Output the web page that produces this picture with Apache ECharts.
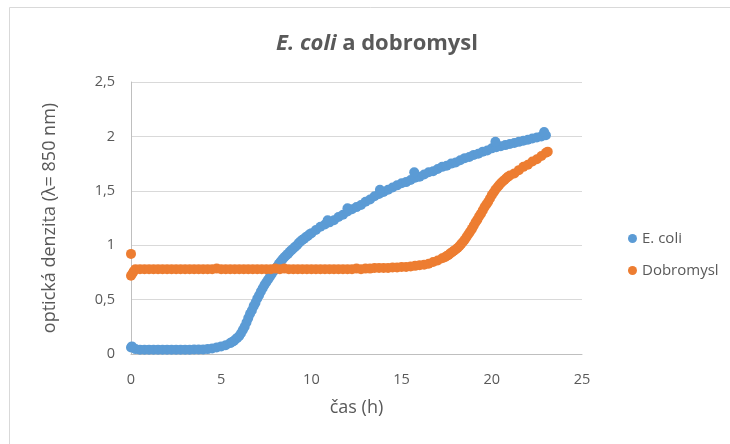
<!DOCTYPE html>
<html>
<head>
<meta charset="utf-8">
<script src="https://cdn.jsdelivr.net/npm/echarts@6/dist/echarts.min.js"></script>
<style>
html,body{margin:0;padding:0;background:#fff;}
#chart{width:730px;height:444px;}
</style>
</head>
<body>
<div id="chart"></div>
<script>
// E. coli readings: time (h) and optical density
const ecoliTime = [0,0.25,0.5,0.75,1,1.25,1.5,1.75,2,2.25,2.5,2.75,3,3.25,3.5,3.75,4,4.25,4.5,4.75,5,5.25,5.5,
  5.6,5.7,5.8,5.9,6.0,6.1,6.2,6.3,6.4,6.5,6.6,6.7,6.8,6.9,7.0,7.1,7.2,7.3,7.4,7.5,7.6,7.7,7.8,7.9,8.0,8.1,8.2,8.3,8.4,8.5,8.6,8.7,8.8,8.9,9.0,9.1,9.2,9.3,9.4,9.5,9.6,9.7,9.8,9.9,10.0,
  10.25,10.5,10.75,11,11.25,11.5,11.75,12,12.25,12.5,12.75,13,13.25,13.5,13.75,14,14.25,14.5,14.75,15,15.25,15.5,15.75,16,16.25,16.5,16.75,17,17.25,17.5,17.75,18,18.25,18.5,18.75,19,19.25,19.5,19.75,20,20.25,20.5,20.75,21,21.25,21.5,21.75,22,22.25,22.5,22.75,23,
  0.05,10.9,12.0,13.8,15.7,20.2,22.9];
const ecoliOD = [0.06,0.045,0.04,0.04,0.04,0.04,0.039,0.04,0.04,0.04,0.039,0.04,0.04,0.04,0.041,0.041,0.042,0.045,0.05,0.06,0.07,0.08,0.10,
  0.11,0.12,0.135,0.15,0.165,0.19,0.22,0.25,0.29,0.33,0.37,0.40,0.44,0.47,0.51,0.54,0.575,0.605,0.635,0.66,0.685,0.71,0.735,0.76,0.78,0.805,0.83,0.85,0.87,0.89,0.905,0.92,0.94,0.955,0.97,0.985,1.00,1.02,1.035,1.05,1.06,1.075,1.085,1.10,1.11,
  1.14,1.17,1.19,1.21,1.23,1.26,1.28,1.31,1.33,1.35,1.37,1.40,1.42,1.45,1.47,1.49,1.51,1.53,1.55,1.57,1.58,1.60,1.62,1.63,1.65,1.67,1.68,1.70,1.72,1.73,1.75,1.76,1.78,1.80,1.81,1.83,1.84,1.86,1.87,1.89,1.90,1.91,1.92,1.93,1.94,1.95,1.96,1.97,1.98,1.99,2.00,2.01,
  0.07,1.23,1.34,1.51,1.67,1.95,2.04];
// Dobromysl readings: time (h) and optical density
const dobroTime = [0,0,0.08,0.15,0.25,0.5,0.75,1,1.25,1.5,1.75,2,2.25,2.5,2.75,3,3.25,3.5,3.75,4,4.25,4.5,4.75,5,5.25,5.5,5.75,6,6.25,6.5,6.75,7,7.25,7.5,7.75,8,8.25,8.5,8.75,9,9.25,9.5,9.75,10,10.25,10.5,10.75,11,11.25,11.5,11.75,12,12.25,12.5,12.75,13,13.25,13.5,13.75,14,14.25,14.5,14.75,15,15.25,15.5,15.75,16,16.25,16.5,16.75,17,17.25,
  17.4,17.5,17.6,17.7,17.8,17.9,18.0,18.1,18.2,18.3,18.4,18.5,18.6,18.7,18.8,18.9,19.0,19.1,19.2,19.3,19.4,19.5,19.6,19.7,19.8,19.9,20.0,20.1,20.2,20.3,20.4,20.5,20.6,20.7,20.8,20.9,21.0,
  21.25,21.5,21.75,22,22.25,22.5,22.75,23,23.1];
const dobroOD = [0.92,0.72,0.74,0.76,0.78,0.78,0.78,0.78,0.78,0.78,0.78,0.78,0.78,0.78,0.78,0.78,0.78,0.78,0.78,0.78,0.78,0.78,0.785,0.78,0.78,0.78,0.78,0.78,0.78,0.78,0.78,0.78,0.78,0.78,0.78,0.785,0.78,0.785,0.78,0.78,0.78,0.78,0.78,0.78,0.78,0.78,0.78,0.78,0.78,0.78,0.78,0.78,0.78,0.785,0.78,0.785,0.785,0.79,0.79,0.79,0.79,0.795,0.795,0.80,0.80,0.805,0.81,0.815,0.82,0.83,0.845,0.86,0.88,
  0.89,0.90,0.91,0.925,0.935,0.95,0.96,0.975,0.99,1.01,1.03,1.05,1.075,1.10,1.125,1.15,1.18,1.21,1.235,1.265,1.29,1.32,1.35,1.375,1.40,1.43,1.46,1.485,1.51,1.53,1.55,1.57,1.585,1.60,1.615,1.63,1.64,
  1.66,1.69,1.72,1.74,1.77,1.79,1.82,1.85,1.86];
const xTicks = [0,5,10,15,20,25];
const yTicks = [0,0.5,1,1.5,2,2.5];

function pairs(t, v){ return t.map((x,i)=>[x, v[i]]); }

const chart = echarts.init(document.getElementById('chart'), null, {renderer:'canvas'});
const txt = '#595959';
const ff = '"Open Sans", "Liberation Sans", sans-serif';
chart.setOption({
  animation:false,
  backgroundColor:'#fff',
  textStyle:{fontFamily:ff},
  graphic:[{type:'rect', shape:{x:9.5,y:7.5,width:760,height:480}, style:{fill:'none', stroke:'#d9d9d9', lineWidth:1}, silent:true}],
  title:{
    text:'{i|E. coli}{b| a dobromysl}',
    left:372, top:28, textAlign:'center',
    textStyle:{rich:{
      i:{fontSize:22, fontWeight:'bold', fontStyle:'italic', color:txt, fontFamily:ff},
      b:{fontSize:22, fontWeight:'bold', color:txt, fontFamily:ff}
    }}
  },
  legend:{
    orient:'vertical', left:623, top:226, itemGap:17,
    icon:'circle', itemWidth:9, itemHeight:9,
    textStyle:{color:txt, fontSize:15, fontFamily:ff},
    data:['E. coli','Dobromysl']
  },
  grid:{left:131, right:148, top:82, bottom:90},
  xAxis:{
    type:'value', min:xTicks[0], max:xTicks[xTicks.length-1], interval:5,
    name:'čas (h)', nameLocation:'middle', nameGap:45,
    nameTextStyle:{color:txt, fontSize:18, fontFamily:ff},
    axisLine:{show:true, lineStyle:{color:'#bfbfbf'}},
    axisTick:{show:false},
    axisLabel:{color:txt, fontSize:14.5, margin:18, fontFamily:ff},
    splitLine:{show:false}
  },
  yAxis:{
    type:'value', min:yTicks[0], max:yTicks[yTicks.length-1], interval:0.5,
    name:'optická denzita (λ= 850 nm)', nameLocation:'middle', nameGap:72,
    nameTextStyle:{color:txt, fontSize:18, fontFamily:ff},
    axisLine:{show:true, lineStyle:{color:'#bfbfbf'}},
    axisTick:{show:false},
    axisLabel:{color:txt, fontSize:14.5, margin:16, fontFamily:ff, formatter:v=>String(v).replace('.',',')},
    splitLine:{show:true, lineStyle:{color:'#d9d9d9'}}
  },
  series:[
    {name:'E. coli', type:'scatter', data:pairs(ecoliTime, ecoliOD), symbolSize:10, itemStyle:{color:'#5b9bd5', opacity:1}},
    {name:'Dobromysl', type:'scatter', data:pairs(dobroTime, dobroOD), symbolSize:10, itemStyle:{color:'#ed7d31', opacity:1}}
  ]
});
</script>
</body>
</html>
